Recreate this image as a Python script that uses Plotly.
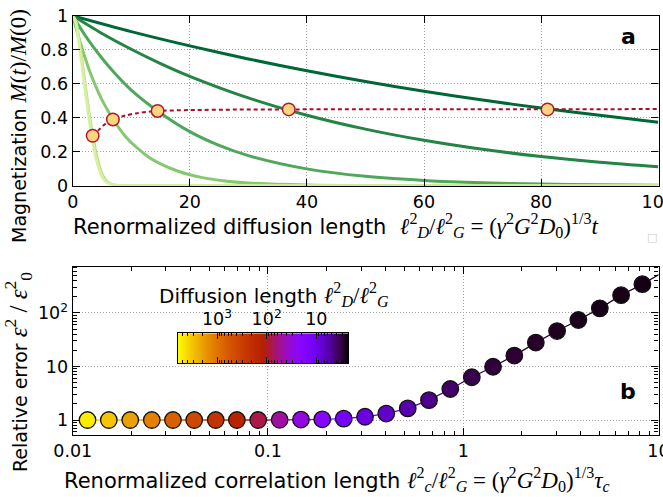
import math
import plotly.graph_objects as go

W, H = 663, 497

# ---------------- Panel a : magnetization curves ----------------
curve1_x = [0, 10, 20, 30, 40, 50, 60, 70, 80, 90, 100]
curve1_y = [1.0, 0.907, 0.823, 0.746, 0.676, 0.613, 0.556, 0.504, 0.457, 0.414, 0.373]

curve2_x = [0, 5, 10, 15, 20, 30, 40, 50, 60, 70, 80, 90, 100]
curve2_y = [1.0, 0.896, 0.803, 0.719, 0.644, 0.517, 0.415, 0.333, 0.267, 0.214, 0.172, 0.138, 0.111]

curve3_x = [0, 2.5, 5, 7.5, 10, 14.5, 20, 25, 30, 40, 50, 60, 70, 80, 90, 100]
curve3_y = [1.0, 0.865, 0.75, 0.65, 0.563, 0.44, 0.318, 0.237, 0.177, 0.099, 0.055, 0.031, 0.017, 0.0097, 0.0054, 0.003]

curve4_x = [0, 1, 2, 3, 4, 5, 7, 9, 11, 13, 15, 18, 22, 26, 30, 40, 50, 60, 100]
curve4_y = [1.0, 0.875, 0.765, 0.665, 0.58, 0.505, 0.385, 0.29, 0.222, 0.168, 0.128, 0.085, 0.049, 0.028, 0.016, 0.004, 0.001, 0.0003, 0.0]

curve5_x = [0, 0.5, 1, 1.5, 2, 2.5, 3, 3.5, 4, 4.5, 5, 5.5, 6, 7, 8, 10, 20, 100]
curve5_y = [1.0, 0.97, 0.88, 0.76, 0.63, 0.5, 0.38, 0.28, 0.19, 0.12, 0.07, 0.04, 0.02, 0.005, 0.001, 0.0, 0.0, 0.0]

curve6_x = [0, 0.5, 1, 1.5, 2, 2.5, 3, 3.5, 4, 4.5, 5, 5.5, 6, 7, 8, 10, 20, 100]
curve6_y = [1.0, 0.965, 0.86, 0.73, 0.6, 0.47, 0.35, 0.245, 0.16, 0.1, 0.055, 0.03, 0.015, 0.004, 0.0, 0.0, 0.0, 0.0]

curve_colors = ["#006837", "#238443", "#4fa85a", "#84c96f", "#b3df88", "#d9efa0"]

locus_x = [3.41, 4.5, 5.5, 6.87, 9, 11, 14.5, 20, 28, 36.9, 50, 65, 81.1, 100]
locus_y = [0.294, 0.33, 0.362, 0.39, 0.413, 0.427, 0.44, 0.445, 0.448, 0.449, 0.45, 0.45, 0.45, 0.451]

optimum_x = [3.41, 6.87, 14.5, 36.9, 81.1]
optimum_y = [0.294, 0.39, 0.44, 0.449, 0.449]

top_xticks = [0, 20, 40, 60, 80, 100]
top_yticks = [0, 0.2, 0.4, 0.6, 0.8, 1]
top_yticklabels = ["0", "0.2", "0.4", "0.6", "0.8", "1"]

# ---------------- Panel b : relative error ----------------
corr_length = [0.0119, 0.0153, 0.0197, 0.0254, 0.0326, 0.0419, 0.054, 0.0693, 0.0891, 0.1148,
               0.1476, 0.1897, 0.2443, 0.3141, 0.4036, 0.52, 0.668, 0.859, 1.107, 1.422,
               1.828, 2.355, 3.027, 3.89, 5.01, 6.44, 8.28]
rel_error = [1.0, 1.0, 1.0, 1.0, 1.0, 1.0, 1.0, 1.0, 1.0, 1.01,
             1.02, 1.03, 1.06, 1.15, 1.32, 1.65, 2.35, 3.8, 6.3, 9.9,
             16.0, 28.0, 46.0, 74.0, 122.0, 215.0, 345.0]
diff_length = [5080, 3170, 1970, 1200, 681, 402, 231, 139, 83, 50,
               31, 19.3, 12.5, 9.1, 7.2, 5.9, 4.7, 3.9, 3.4, 3.15,
               2.96, 2.83, 2.69, 2.63, 2.59, 2.55, 2.53]
trend_tail_x = 10.65
trend_tail_y = 590.0

bot_xticks = [0.01, 0.1, 1, 10]
bot_xticklabels = ["0.01", "0.1", "1", "10"]
bot_yticks = [1, 10, 100]
bot_yticklabels = ["1", "10", "10<sup>2</sup>"]

cbar_min_len = 2.3
cbar_max_len = 6100.0
cbar_ticks = [10, 100, 1000]
cbar_ticklabels = ["10", "10<sup>2</sup>", "10<sup>3</sup>"]
cbar_minor = [3, 4, 5, 6, 7, 8, 9, 20, 30, 40, 50, 60, 70, 80, 90,
              200, 300, 400, 500, 600, 700, 800, 900, 2000, 3000, 4000, 5000, 6000]

# ---------------- helpers ----------------
def gnuplot_rgb(t):
    t = min(1.0, max(0.0, t))
    r = math.sqrt(t)
    g = t ** 3
    b = max(0.0, math.sin(2 * math.pi * t))
    return "rgb(%d,%d,%d)" % (round(255 * r), round(255 * g), round(255 * b))

GNUPLOT = [[i / 40, gnuplot_rgb(i / 40)] for i in range(41)]
CB_LO = math.log10(cbar_min_len)
CB_HI = math.log10(cbar_max_len)

def px_x(p):
    return p / W

def px_y(p):
    return 1 - p / H

FONT = "DejaVu Sans"
MATH = "Liberation Serif"

def m(s, size):
    return '<span style="font-family:%s;font-size:%dpx">%s</span>' % (MATH, size, s)

fig = go.Figure()

# panel a curves
for cx, cy, col in zip([curve1_x, curve2_x, curve3_x, curve4_x, curve5_x, curve6_x],
                       [curve1_y, curve2_y, curve3_y, curve4_y, curve5_y, curve6_y],
                       curve_colors):
    fig.add_trace(go.Scatter(x=cx, y=cy, mode="lines", line=dict(color=col, width=3, shape="spline", smoothing=0.8),
                             xaxis="x", yaxis="y", hoverinfo="skip"))

fig.add_trace(go.Scatter(x=locus_x, y=locus_y, mode="lines",
                         line=dict(color="#a50f2d", width=2, dash="4px,3px", shape="spline", smoothing=0.8),
                         xaxis="x", yaxis="y", hoverinfo="skip"))
fig.add_trace(go.Scatter(x=optimum_x, y=optimum_y, mode="markers",
                         marker=dict(size=12.5, color="#fed480", line=dict(color="#b2182b", width=1.5)),
                         xaxis="x", yaxis="y", cliponaxis=False))

# panel b connecting line, coloured per segment
line_x = corr_length + [trend_tail_x]
line_y = rel_error + [trend_tail_y]
for i in range(len(line_x) - 1):
    t = (math.log10(diff_length[min(i, len(diff_length) - 1)]) - CB_LO) / (CB_HI - CB_LO)
    fig.add_trace(go.Scatter(x=line_x[i:i + 2], y=line_y[i:i + 2], mode="lines",
                             line=dict(color=gnuplot_rgb(t), width=1.3),
                             xaxis="x2", yaxis="y2", hoverinfo="skip"))

fig.add_trace(go.Scatter(x=corr_length, y=rel_error, mode="markers",
                         marker=dict(size=16.5, color=[math.log10(d) for d in diff_length],
                                     cmin=CB_LO, cmax=CB_HI, colorscale=GNUPLOT, showscale=False,
                                     line=dict(color="#111111", width=1.3)),
                         xaxis="x2", yaxis="y2", cliponaxis=False))

# colour bar drawn as an inset heat strip
cbar_levels = [CB_LO + (CB_HI - CB_LO) * k / 299 for k in range(300)]
fig.add_trace(go.Heatmap(x=cbar_levels, y=[0], z=[cbar_levels], zmin=CB_LO, zmax=CB_HI,
                         colorscale=GNUPLOT, showscale=False, xaxis="x3", yaxis="y3", hoverinfo="skip"))

tickfont = dict(family=FONT, size=17.5, color="black")
grid = dict(showgrid=True, gridcolor="#a0a0a0", griddash="1px,2px", gridwidth=1)
common = dict(ticks="inside", tickcolor="black", tickwidth=1.2, showline=True, linecolor="black",
              linewidth=1.3, mirror="ticks", zeroline=False, tickfont=tickfont, automargin=False,
              ticklabeloverflow="allow")

XD = [px_x(72.7), px_x(658.5)]

fig.update_layout(
    width=W, height=H, margin=dict(l=0, r=0, t=0, b=0, pad=0, autoexpand=False),
    paper_bgcolor="white", plot_bgcolor="white", showlegend=False,
    font=dict(family=FONT, color="black"),
    xaxis=dict(domain=XD, anchor="y", range=[0, 100.05], tickmode="array", tickvals=top_xticks,
               ticklen=7, **grid, **common),
    yaxis=dict(domain=[px_y(185.7), px_y(15.7)], anchor="x", range=[0, 1.0005], tickmode="array",
               tickvals=top_yticks, ticktext=top_yticklabels, ticklen=7, **grid, **common),
    xaxis2=dict(domain=XD, anchor="y2", type="log", range=[-2.0003, 1.0005], tickmode="array",
                tickvals=bot_xticks, ticktext=bot_xticklabels, ticklen=7,
                minor=dict(ticks="inside", ticklen=4, tickcolor="black", tickwidth=1, dtick="D1", showgrid=False),
                **grid, **common),
    yaxis2=dict(domain=[px_y(435), px_y(266.7)], anchor="x2", type="log", range=[-0.28, 2.865],
                tickmode="array", tickvals=bot_yticks, ticktext=bot_yticklabels, ticklen=7,
                minor=dict(ticks="inside", ticklen=4, tickcolor="black", tickwidth=1, dtick="D1", showgrid=False),
                **grid, **common),
    xaxis3=dict(domain=[px_x(178), px_x(348)], anchor="y3", range=[CB_HI, CB_LO], side="top",
                tickmode="array", tickvals=[math.log10(v) for v in cbar_ticks], ticktext=cbar_ticklabels,
                ticklen=6, showgrid=False,
                minor=dict(ticks="inside", ticklen=3, tickcolor="black", tickwidth=1, tickmode="array",
                           tickvals=[math.log10(v) for v in cbar_minor], showgrid=False),
                **common),
    yaxis3=dict(domain=[px_y(363.3), px_y(333.3)], anchor="x3", range=[-0.5, 0.5], showticklabels=False,
                ticks="", showgrid=False, zeroline=False, showline=True, linecolor="black", linewidth=1.3,
                mirror=True, automargin=False),
)

ann = []
ann.append(dict(x=px_x(71), y=px_y(243), xref="paper", yref="paper", xanchor="left", yanchor="bottom",
                showarrow=False, font=dict(size=21, family=FONT),
                text="Renormalized diffusion length  " +
                m("<i>ℓ</i><sup>2</sup><sub><i>D</i></sub>/<i>ℓ</i><sup>2</sup><sub><i>G</i></sub> = "
                  "(<i>γ</i><sup>2</sup><i>G</i><sup>2</sup><i>D</i><sub>0</sub>)<sup>1/3</sup><i>t</i>", 23)))
ann.append(dict(x=px_x(62), y=px_y(496.5), xref="paper", yref="paper", xanchor="left", yanchor="bottom",
                showarrow=False, font=dict(size=21, family=FONT),
                text="Renormalized correlation length " +
                m("<i>ℓ</i><sup>2</sup><sub><i>c</i></sub>/<i>ℓ</i><sup>2</sup><sub><i>G</i></sub> = "
                  "(<i>γ</i><sup>2</sup><i>G</i><sup>2</sup><i>D</i><sub>0</sub>)<sup>1/3</sup><i>τ</i><sub><i>c</i></sub>", 23)))
ann.append(dict(x=px_x(18), y=px_y(126), xref="paper", yref="paper", xanchor="center", yanchor="middle",
                showarrow=False, textangle=-90, font=dict(size=19, family=FONT),
                text="Magnetization " + m("<i>M</i>(<i>t</i>)/<i>M</i>(0)", 23)))
ann.append(dict(x=px_x(18), y=px_y(372), xref="paper", yref="paper", xanchor="center", yanchor="middle",
                showarrow=False, textangle=-90, font=dict(size=19, family=FONT),
                text="Relative error " + m("<i>ε</i><sup>2</sup> / <i>ε</i><sup>2</sup><sub>0</sub>", 25)))
ann.append(dict(x=px_x(157), y=px_y(294), xref="paper", yref="paper", xanchor="left", yanchor="middle",
                showarrow=False, font=dict(size=20, family=FONT),
                text="Diffusion length " +
                m("<i>ℓ</i><sup>2</sup><sub><i>D</i></sub>/<i>ℓ</i><sup>2</sup><sub><i>G</i></sub>", 23)))
ann.append(dict(x=px_x(628), y=px_y(36), xref="paper", yref="paper", xanchor="center", yanchor="middle",
                showarrow=False, font=dict(size=22, family=FONT), text="<b>a</b>"))
ann.append(dict(x=px_x(628), y=px_y(391), xref="paper", yref="paper", xanchor="center", yanchor="middle",
                showarrow=False, font=dict(size=22, family=FONT), text="<b>b</b>"))
ann.append(dict(x=px_x(652), y=px_y(237), xref="paper", yref="paper", xanchor="center", yanchor="middle",
                showarrow=False, font=dict(size=11, family=FONT, color="#cccccc"), text="□"))
fig.update_layout(annotations=ann)

fig.write_html("out.html", config={"displayModeBar": False},
               post_script="document.body.style.margin='0px';")
